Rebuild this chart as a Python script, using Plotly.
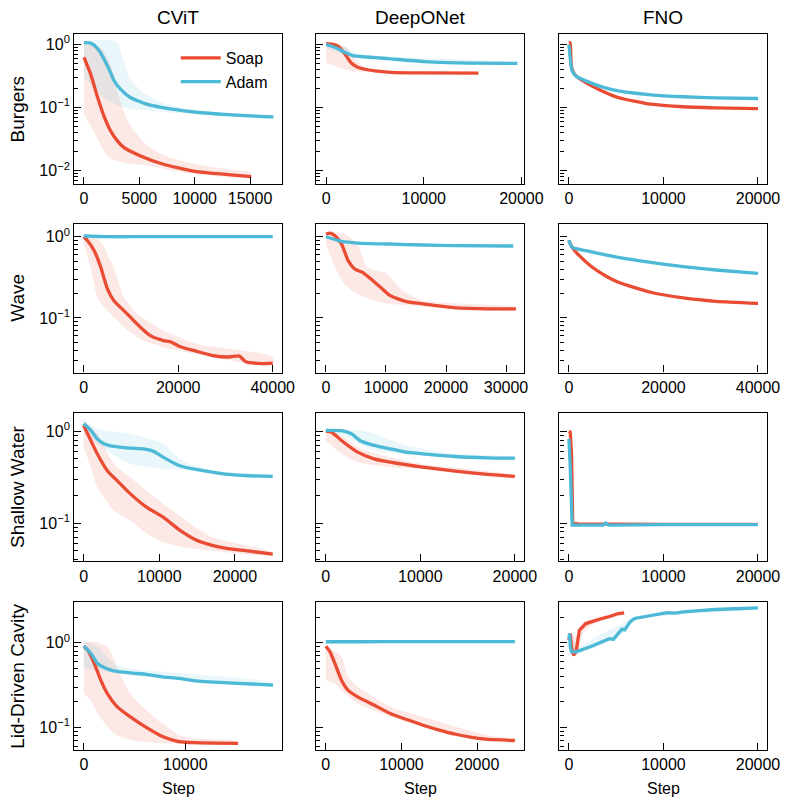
import numpy as np
import plotly.graph_objects as go
from plotly.subplots import make_subplots

# ---------------- tick labels / categories ----------------
col_titles = ["CViT", "DeepONet", "FNO"]
row_titles = ["Burgers", "Wave", "Shallow Water", "Lid-Driven Cavity"]
series_names = ["Soap", "Adam"]
x_label = "Step"
y_tick_vals = [0.01, 0.1, 1.0]
y_tick_text = ["10<sup>−2</sup>", "10<sup>−1</sup>", "10<sup>0</sup>"]

# ---------------- data: Burgers ----------------
bu_cvit_soap_x = [0, 600, 1235, 1800, 2400, 3000, 3600, 5060, 7100, 10000, 13000, 15100]
bu_cvit_soap_y = [0.62, 0.34, 0.144, 0.074, 0.043, 0.030, 0.0234, 0.0173, 0.0128, 0.0098, 0.0087, 0.0081]
bu_cvit_soap_lo_x = [0, 1000, 2000, 2700, 4000, 6000, 8000, 10000, 15100]
bu_cvit_soap_lo_y = [0.079, 0.038, 0.018, 0.0148, 0.013, 0.012, 0.010, 0.0089, 0.0079]
bu_cvit_soap_hi_x = [0, 1500, 2500, 3000, 3600, 4200, 5600, 7100, 10000, 13000, 15100]
bu_cvit_soap_hi_y = [1.0, 0.9, 0.43, 0.18, 0.088, 0.051, 0.026, 0.018, 0.0128, 0.0106, 0.0094]
bu_cvit_adam_x = [0, 500, 940, 1400, 1820, 2300, 2700, 3300, 4180, 5650, 7100, 10000, 13000, 17100]
bu_cvit_adam_y = [1.06, 1.05, 0.96, 0.78, 0.58, 0.39, 0.27, 0.195, 0.144, 0.113, 0.100, 0.085, 0.077, 0.071]
bu_cvit_adam_lo_x = [0, 1000, 2000, 3600, 6000, 10000, 17100]
bu_cvit_adam_lo_y = [0.30, 0.20, 0.135, 0.10, 0.089, 0.079, 0.068]
bu_cvit_adam_hi_x = [0, 3000, 3500, 4200, 5600, 7100, 10000, 13000, 17100]
bu_cvit_adam_hi_y = [1.15, 1.1, 0.60, 0.28, 0.16, 0.12, 0.088, 0.080, 0.076]

bu_don_soap_x = [0, 700, 1270, 1950, 2600, 3290, 5000, 6640, 10000, 15600]
bu_don_soap_y = [1.02, 1.0, 0.92, 0.695, 0.50, 0.43, 0.38, 0.36, 0.353, 0.35]
bu_don_soap_lo_x = [0, 1000, 2000, 3000, 5000, 15600]
bu_don_soap_lo_y = [0.51, 0.45, 0.40, 0.37, 0.36, 0.345]
bu_don_soap_hi_x = [0, 1000, 2000, 3000, 4000, 6000, 15600]
bu_don_soap_hi_y = [1.05, 1.05, 0.90, 0.58, 0.43, 0.37, 0.36]
bu_don_adam_x = [0, 940, 1950, 2800, 5000, 6640, 10000, 13350, 19600]
bu_don_adam_y = [1.0, 0.886, 0.74, 0.655, 0.616, 0.587, 0.533, 0.507, 0.50]
bu_don_adam_lo_x = [0, 2000, 3000, 5000, 19600]
bu_don_adam_lo_y = [0.85, 0.68, 0.62, 0.59, 0.49]
bu_don_adam_hi_x = [0, 2000, 3000, 5000, 19600]
bu_don_adam_hi_y = [1.05, 0.90, 0.75, 0.66, 0.51]

bu_fno_soap_x = [0, 120, 240, 400, 750, 1790, 3500, 5220, 8660, 12100, 15500, 20000]
bu_fno_soap_y = [1.06, 1.06, 0.48, 0.38, 0.316, 0.248, 0.183, 0.144, 0.113, 0.103, 0.099, 0.096]
bu_fno_adam_x = [0, 340, 750, 1790, 3500, 5220, 8660, 12100, 15500, 20000]
bu_fno_adam_y = [0.976, 0.38, 0.316, 0.264, 0.212, 0.183, 0.159, 0.148, 0.142, 0.139]

# ---------------- data: Wave ----------------
wa_cvit_soap_x = [0, 840, 2230, 3620, 5000, 6400, 8500, 9900, 12000, 14100, 16900, 18500, 20300,
                  23800, 27300, 30800, 32900, 34300, 37800, 40000]
wa_cvit_soap_y = [1.0, 0.893, 0.673, 0.42, 0.23, 0.163, 0.123, 0.102, 0.0768, 0.0606, 0.0526, 0.0505,
                  0.0445, 0.0389, 0.0344, 0.0330, 0.0340, 0.0288, 0.0274, 0.0277]
wa_cvit_soap_lo_x = [0, 1500, 2900, 5000, 8500, 12000, 16900, 23800, 40000]
wa_cvit_soap_lo_y = [0.81, 0.42, 0.18, 0.123, 0.077, 0.055, 0.0436, 0.036, 0.026]
wa_cvit_soap_hi_x = [0, 2000, 4000, 5000, 6400, 8500, 11300, 16900, 23800, 40000]
wa_cvit_soap_hi_y = [1.05, 1.0, 0.81, 0.61, 0.42, 0.18, 0.112, 0.070, 0.048, 0.033]
wa_cvit_adam_x = [0, 5000, 10000, 20000, 30000, 40000]
wa_cvit_adam_y = [1.02, 1.0, 1.0, 1.0, 1.0, 1.0]

wa_don_soap_x = [0, 700, 1500, 2600, 3700, 4800, 6100, 7500, 9100, 10700, 13400, 16150, 21570, 27000, 31650]
wa_don_soap_y = [1.08, 1.11, 1.03, 0.81, 0.507, 0.40, 0.364, 0.302, 0.238, 0.188, 0.159, 0.149, 0.133, 0.129, 0.129]
wa_don_soap_lo_x = [0, 1500, 3100, 5300, 8000, 10700, 31650]
wa_don_soap_lo_y = [0.81, 0.42, 0.26, 0.197, 0.163, 0.149, 0.123]
wa_don_soap_hi_x = [0, 2600, 5300, 6800, 10100, 12800, 16150, 31650]
wa_don_soap_hi_y = [1.12, 1.12, 0.81, 0.42, 0.35, 0.217, 0.163, 0.135]
wa_don_adam_x = [0, 2600, 5300, 10700, 16150, 21570, 31200]
wa_don_adam_y = [1.0, 0.876, 0.836, 0.813, 0.79, 0.775, 0.768]

wa_fno_soap_x = [0, 690, 2200, 4950, 7700, 10450, 17300, 24200, 31100, 40000]
wa_fno_soap_y = [0.893, 0.74, 0.584, 0.42, 0.331, 0.275, 0.207, 0.176, 0.16, 0.151]
wa_fno_adam_x = [0, 120, 690, 3570, 10450, 17300, 24200, 31100, 40000]
wa_fno_adam_y = [0.91, 0.85, 0.74, 0.673, 0.557, 0.484, 0.428, 0.389, 0.354]

# ---------------- data: Shallow Water ----------------
sw_cvit_soap_x = [0, 950, 1800, 3100, 4400, 6150, 8300, 10500, 12600, 14800, 17000, 19100, 21700, 25000]
sw_cvit_soap_y = [1.15, 0.792, 0.567, 0.374, 0.291, 0.209, 0.149, 0.116, 0.085, 0.066, 0.0573, 0.0527, 0.0498, 0.0458]
sw_cvit_soap_lo_x = [0, 950, 1800, 4000, 6150, 8300, 10500, 13000, 14800, 25000]
sw_cvit_soap_lo_y = [0.67, 0.406, 0.246, 0.137, 0.107, 0.077, 0.062, 0.055, 0.0527, 0.0446]
sw_cvit_soap_hi_x = [0, 1800, 4000, 6150, 8300, 10500, 13000, 14800, 17000, 25000]
sw_cvit_soap_hi_y = [1.3, 0.935, 0.44, 0.316, 0.226, 0.162, 0.116, 0.090, 0.070, 0.048]
sw_cvit_adam_x = [0, 950, 1800, 2700, 4000, 6150, 7900, 9200, 10500, 12600, 14800, 17000, 19100, 21700, 25000]
sw_cvit_adam_y = [1.2, 1.02, 0.825, 0.728, 0.681, 0.654, 0.643, 0.606, 0.522, 0.423, 0.383, 0.359, 0.338, 0.327, 0.322]
sw_cvit_adam_lo_x = [0, 1800, 6150, 10500, 14800, 25000]
sw_cvit_adam_lo_y = [1.02, 0.728, 0.44, 0.39, 0.368, 0.316]
sw_cvit_adam_hi_x = [0, 1800, 6150, 10500, 13000, 17000, 25000]
sw_cvit_adam_hi_y = [1.36, 1.06, 0.935, 0.728, 0.48, 0.374, 0.33]

sw_don_soap_x = [0, 620, 1650, 3370, 5100, 6800, 10250, 13700, 17100, 20000]
sw_don_soap_y = [1.0, 0.975, 0.792, 0.591, 0.50, 0.46, 0.406, 0.368, 0.338, 0.322]
sw_don_soap_lo_x = [0, 1650, 3370, 6800, 10250, 20000]
sw_don_soap_lo_y = [0.792, 0.567, 0.46, 0.406, 0.39, 0.31]
sw_don_soap_hi_x = [0, 1650, 3370, 6800, 10250, 20000]
sw_don_soap_hi_y = [1.02, 0.90, 0.67, 0.52, 0.44, 0.33]
sw_don_adam_x = [0, 1650, 2700, 3700, 5100, 6800, 8500, 10250, 13700, 17100, 20000]
sw_don_adam_y = [1.02, 1.01, 0.935, 0.78, 0.699, 0.643, 0.591, 0.567, 0.53, 0.513, 0.509]
sw_don_adam_lo_x = [0, 2700, 3700, 5100, 10250, 20000]
sw_don_adam_lo_y = [0.98, 0.825, 0.70, 0.617, 0.544, 0.50]
sw_don_adam_hi_x = [0, 3700, 5100, 8500, 13700, 20000]
sw_don_adam_hi_y = [1.05, 1.02, 0.935, 0.70, 0.567, 0.52]

sw_fno_soap_x = [0, 140, 275, 400, 1000, 5000, 10000, 20000]
sw_fno_soap_y = [1.0, 0.975, 0.567, 0.099, 0.098, 0.097, 0.097, 0.097]
sw_fno_adam_x = [0, 140, 340, 1000, 3600, 3900, 4200, 10000, 20000]
sw_fno_adam_y = [0.825, 0.406, 0.095, 0.095, 0.095, 0.100, 0.095, 0.096, 0.096]

# ---------------- data: Lid-Driven Cavity ----------------
ldc_cvit_soap_x = [0, 380, 1030, 1670, 2300, 3270, 4550, 6150, 7750, 9360, 11000, 15200]
ldc_cvit_soap_y = [0.913, 0.819, 0.57, 0.362, 0.252, 0.176, 0.134, 0.100, 0.078, 0.068, 0.0659, 0.0647]
ldc_cvit_soap_lo_x = [0, 700, 1350, 2950, 4550, 7750, 15200]
ldc_cvit_soap_lo_y = [0.252, 0.21, 0.146, 0.085, 0.071, 0.065, 0.0636]
ldc_cvit_soap_hi_x = [0, 1030, 2300, 3270, 4550, 6150, 7750, 9700, 15200]
ldc_cvit_soap_hi_y = [1.03, 1.03, 0.897, 0.52, 0.252, 0.16, 0.111, 0.078, 0.068]
ldc_cvit_adam_x = [0, 700, 1350, 2000, 2950, 4550, 6150, 7750, 9360, 11000, 14200, 17400, 18650]
ldc_cvit_adam_y = [0.913, 0.748, 0.57, 0.51, 0.467, 0.442, 0.423, 0.397, 0.379, 0.356, 0.337, 0.322, 0.316]
ldc_cvit_adam_lo_x = [0, 1350, 4550, 18650]
ldc_cvit_adam_lo_y = [0.497, 0.475, 0.415, 0.308]
ldc_cvit_adam_hi_x = [0, 1350, 2950, 4550, 18650]
ldc_cvit_adam_hi_y = [1.075, 0.897, 0.57, 0.497, 0.337]

ldc_don_soap_x = [0, 560, 1200, 2070, 2930, 4220, 6380, 8530, 10700, 12850, 15000, 17150, 19300, 21460, 25000]
ldc_don_soap_y = [0.913, 0.783, 0.57, 0.362, 0.276, 0.23, 0.184, 0.146, 0.124, 0.106, 0.093, 0.083, 0.076, 0.072, 0.070]
ldc_don_soap_lo_x = [0, 1200, 2500, 4220, 8530, 12850, 17150, 25000]
ldc_don_soap_lo_y = [0.362, 0.331, 0.252, 0.192, 0.134, 0.102, 0.081, 0.069]
ldc_don_soap_hi_x = [0, 2070, 2930, 4220, 8530, 12850, 17150, 21460, 25000]
ldc_don_soap_hi_y = [0.94, 0.68, 0.397, 0.302, 0.176, 0.134, 0.102, 0.081, 0.072]
ldc_don_adam_x = [0, 5000, 10000, 15000, 20000, 25000]
ldc_don_adam_y = [1.03, 1.03, 1.035, 1.035, 1.035, 1.035]

ldc_fno_soap_x = [0, 140, 275, 480, 760, 930, 1100, 1790, 2800, 3500, 4300, 5220, 5840]
ldc_fno_soap_y = [1.075, 1.29, 0.897, 0.715, 0.783, 1.075, 1.41, 1.69, 1.85, 1.94, 2.05, 2.22, 2.26]
ldc_fno_soap_lo_x = [0, 300, 800, 1500, 3000, 5840]
ldc_fno_soap_lo_y = [0.95, 0.80, 0.72, 1.3, 1.75, 2.18]
ldc_fno_soap_hi_x = [0, 300, 800, 1500, 3000, 5840]
ldc_fno_soap_hi_y = [1.25, 1.25, 1.2, 1.75, 2.0, 2.30]
ldc_fno_adam_x = [0, 70, 140, 275, 760, 1790, 2600, 3500, 4300, 4700, 5220, 5600, 5900, 6500, 6940, 7800,
                  8660, 9500, 10400, 11200, 12100, 13800, 15500, 17700, 20000]
ldc_fno_adam_y = [1.125, 1.29, 0.897, 0.783, 0.783, 0.857, 0.93, 1.03, 1.12, 1.10, 1.29, 1.45, 1.42, 1.78,
                  1.94, 2.02, 2.12, 2.18, 2.28, 2.25, 2.32, 2.40, 2.48, 2.53, 2.59]
ldc_fno_adam_lo_x = [0, 1000, 3000, 5500, 7000, 20000]
ldc_fno_adam_lo_y = [0.95, 0.75, 0.90, 1.25, 1.85, 2.55]
ldc_fno_adam_hi_x = [0, 1000, 3000, 5500, 7000, 20000]
ldc_fno_adam_hi_y = [1.35, 0.90, 1.20, 1.65, 2.05, 2.63]

# ---------------- axis settings (values only) ----------------
x_ticks = [
    [[0, 5000, 10000, 15000], [0, 10000, 20000], [0, 10000, 20000]],
    [[0, 20000, 40000], [0, 10000, 20000, 30000], [0, 20000, 40000]],
    [[0, 10000, 20000], [0, 10000, 20000], [0, 10000, 20000]],
    [[0, 10000], [0, 10000, 20000], [0, 10000, 20000]],
]
x_ranges = [
    [[-880, 17900], [-1000, 20300], [-1000, 21000]],
    [[-2000, 42000], [-1600, 33050], [-2000, 42000]],
    [[-1250, 26250], [-1000, 21000], [-1000, 21000]],
    [[-950, 19550], [-1250, 26250], [-1000, 21000]],
]
y_log_ranges = [[-2.205, 0.163], [-1.673, 0.16], [-1.416, 0.192], [-1.268, 0.48]]

# panels: (row, col) -> dict of series
P = {
    (1, 1): dict(soap=(bu_cvit_soap_x, bu_cvit_soap_y), adam=(bu_cvit_adam_x, bu_cvit_adam_y),
                 soap_band=(bu_cvit_soap_lo_x, bu_cvit_soap_lo_y, bu_cvit_soap_hi_x, bu_cvit_soap_hi_y),
                 adam_band=(bu_cvit_adam_lo_x, bu_cvit_adam_lo_y, bu_cvit_adam_hi_x, bu_cvit_adam_hi_y)),
    (1, 2): dict(soap=(bu_don_soap_x, bu_don_soap_y), adam=(bu_don_adam_x, bu_don_adam_y),
                 soap_band=(bu_don_soap_lo_x, bu_don_soap_lo_y, bu_don_soap_hi_x, bu_don_soap_hi_y),
                 adam_band=(bu_don_adam_lo_x, bu_don_adam_lo_y, bu_don_adam_hi_x, bu_don_adam_hi_y)),
    (1, 3): dict(soap=(bu_fno_soap_x, bu_fno_soap_y), adam=(bu_fno_adam_x, bu_fno_adam_y)),
    (2, 1): dict(soap=(wa_cvit_soap_x, wa_cvit_soap_y), adam=(wa_cvit_adam_x, wa_cvit_adam_y),
                 soap_band=(wa_cvit_soap_lo_x, wa_cvit_soap_lo_y, wa_cvit_soap_hi_x, wa_cvit_soap_hi_y)),
    (2, 2): dict(soap=(wa_don_soap_x, wa_don_soap_y), adam=(wa_don_adam_x, wa_don_adam_y),
                 soap_band=(wa_don_soap_lo_x, wa_don_soap_lo_y, wa_don_soap_hi_x, wa_don_soap_hi_y)),
    (2, 3): dict(soap=(wa_fno_soap_x, wa_fno_soap_y), adam=(wa_fno_adam_x, wa_fno_adam_y)),
    (3, 1): dict(soap=(sw_cvit_soap_x, sw_cvit_soap_y), adam=(sw_cvit_adam_x, sw_cvit_adam_y),
                 soap_band=(sw_cvit_soap_lo_x, sw_cvit_soap_lo_y, sw_cvit_soap_hi_x, sw_cvit_soap_hi_y),
                 adam_band=(sw_cvit_adam_lo_x, sw_cvit_adam_lo_y, sw_cvit_adam_hi_x, sw_cvit_adam_hi_y)),
    (3, 2): dict(soap=(sw_don_soap_x, sw_don_soap_y), adam=(sw_don_adam_x, sw_don_adam_y),
                 soap_band=(sw_don_soap_lo_x, sw_don_soap_lo_y, sw_don_soap_hi_x, sw_don_soap_hi_y),
                 adam_band=(sw_don_adam_lo_x, sw_don_adam_lo_y, sw_don_adam_hi_x, sw_don_adam_hi_y)),
    (3, 3): dict(soap=(sw_fno_soap_x, sw_fno_soap_y), adam=(sw_fno_adam_x, sw_fno_adam_y), linear=True),
    (4, 1): dict(soap=(ldc_cvit_soap_x, ldc_cvit_soap_y), adam=(ldc_cvit_adam_x, ldc_cvit_adam_y),
                 soap_band=(ldc_cvit_soap_lo_x, ldc_cvit_soap_lo_y, ldc_cvit_soap_hi_x, ldc_cvit_soap_hi_y),
                 adam_band=(ldc_cvit_adam_lo_x, ldc_cvit_adam_lo_y, ldc_cvit_adam_hi_x, ldc_cvit_adam_hi_y)),
    (4, 2): dict(soap=(ldc_don_soap_x, ldc_don_soap_y), adam=(ldc_don_adam_x, ldc_don_adam_y),
                 soap_band=(ldc_don_soap_lo_x, ldc_don_soap_lo_y, ldc_don_soap_hi_x, ldc_don_soap_hi_y)),
    (4, 3): dict(soap=(ldc_fno_soap_x, ldc_fno_soap_y), adam=(ldc_fno_adam_x, ldc_fno_adam_y),
                 soap_band=(ldc_fno_soap_lo_x, ldc_fno_soap_lo_y, ldc_fno_soap_hi_x, ldc_fno_soap_hi_y),
                 adam_band=(ldc_fno_adam_lo_x, ldc_fno_adam_lo_y, ldc_fno_adam_hi_x, ldc_fno_adam_hi_y),
                 linear=True),
}

# ---------------- styling ----------------
W, H = 805, 804
FONT = "Liberation Sans, Arial, Helvetica, sans-serif"
SOAP = "#EA4B33"
ADAM = "#4CB9D6"
SOAP_FILL = "rgba(234,75,51,0.13)"
ADAM_FILL = "rgba(76,185,214,0.12)"

col_px = [(76, 289), (324, 537), (573, 786)]
row_px = [(33, 183), (223, 372), (413, 561), (602, 750)]

fig = make_subplots(rows=4, cols=3)

for (r, c), d in P.items():
    shape = "linear" if d.get("linear") else "spline"
    for key, fill in (("soap_band", SOAP_FILL), ("adam_band", ADAM_FILL)):
        if key in d:
            lx, ly, hx, hy = d[key]
            fig.add_trace(go.Scatter(x=list(lx) + list(hx)[::-1], y=list(ly) + list(hy)[::-1],
                                     fill="toself", fillcolor=fill,
                                     line=dict(width=0, shape="spline", smoothing=0.6),
                                     mode="lines", showlegend=False, hoverinfo="skip"), row=r, col=c)
    sx, sy = d["soap"]
    ax_, ay = d["adam"]
    fig.add_trace(go.Scatter(x=sx, y=sy, mode="lines", name=series_names[0],
                             line=dict(color=SOAP, width=3.3, shape=shape, smoothing=0.55),
                             showlegend=(r, c) == (1, 1), legendrank=1), row=r, col=c)
    fig.add_trace(go.Scatter(x=ax_, y=ay, mode="lines", name=series_names[1],
                             line=dict(color=ADAM, width=3.3, shape=shape, smoothing=0.55),
                             showlegend=(r, c) == (1, 1), legendrank=2), row=r, col=c)


def minor_vals(lo, hi):
    out = []
    for dec in range(int(np.floor(lo)) - 1, int(np.ceil(hi)) + 1):
        for m in range(2, 10):
            v = m * 10.0 ** dec
            if lo <= np.log10(v) <= hi:
                out.append(v)
    return out


for r in range(1, 5):
    for c in range(1, 4):
        idx = (r - 1) * 3 + c
        xs = "xaxis" if idx == 1 else f"xaxis{idx}"
        ys = "yaxis" if idx == 1 else f"yaxis{idx}"
        x0, x1 = col_px[c - 1]
        y0, y1 = row_px[r - 1]
        tv = x_ticks[r - 1][c - 1]
        fig.layout[xs].update(
            domain=[x0 / W, x1 / W], range=x_ranges[r - 1][c - 1],
            tickvals=tv, ticktext=[str(v) for v in tv],
            ticks="inside", ticklen=7, tickwidth=1, tickcolor="black",
            showline=True, mirror=True, linecolor="black", linewidth=1.2,
            showgrid=False, zeroline=False,
            tickfont=dict(family=FONT, size=16, color="black"),
        )
        lo, hi = y_log_ranges[r - 1]
        fig.layout[ys].update(
            domain=[1 - y1 / H, 1 - y0 / H], type="log", range=[lo, hi],
            tickvals=y_tick_vals, ticktext=y_tick_text,
            showticklabels=(c == 1),
            ticks="inside", ticklen=7, tickwidth=1, tickcolor="black",
            minor=dict(tickvals=minor_vals(lo, hi), ticks="inside", ticklen=4, tickwidth=1,
                       tickcolor="black", showgrid=False),
            showline=True, mirror=True, linecolor="black", linewidth=1.2,
            showgrid=False, zeroline=False,
            tickfont=dict(family=FONT, size=16, color="black"),
        )

annotations = []
for c, t in enumerate(col_titles):
    x0, x1 = col_px[c]
    annotations.append(dict(text=t, x=(x0 + x1) / 2 / W, y=1 - 17 / H, xref="paper", yref="paper",
                            showarrow=False, xanchor="center", yanchor="middle",
                            font=dict(family=FONT, size=19, color="black")))
    annotations.append(dict(text=x_label, x=(x0 + x1) / 2 / W, y=1 - 788 / H, xref="paper", yref="paper",
                            showarrow=False, xanchor="center", yanchor="middle",
                            font=dict(family=FONT, size=16, color="black")))
for r, t in enumerate(row_titles):
    y0, y1 = row_px[r]
    annotations.append(dict(text=t, x=18 / W, y=1 - (y0 + y1) / 2 / H, xref="paper", yref="paper",
                            showarrow=False, xanchor="center", yanchor="middle", textangle=-90,
                            font=dict(family=FONT, size=19, color="black")))

fig.update_layout(
    width=W, height=H, margin=dict(l=0, r=0, t=0, b=0),
    paper_bgcolor="white", plot_bgcolor="white",
    annotations=annotations,
    showlegend=True,
    legend=dict(x=180 / W, y=1 - 40 / H, xanchor="left", yanchor="top",
                bgcolor="rgba(0,0,0,0)", font=dict(family=FONT, size=16, color="black"),
                itemwidth=40, tracegroupgap=0),
    font=dict(family=FONT, color="black"),
)

fig.write_html("out.html")
